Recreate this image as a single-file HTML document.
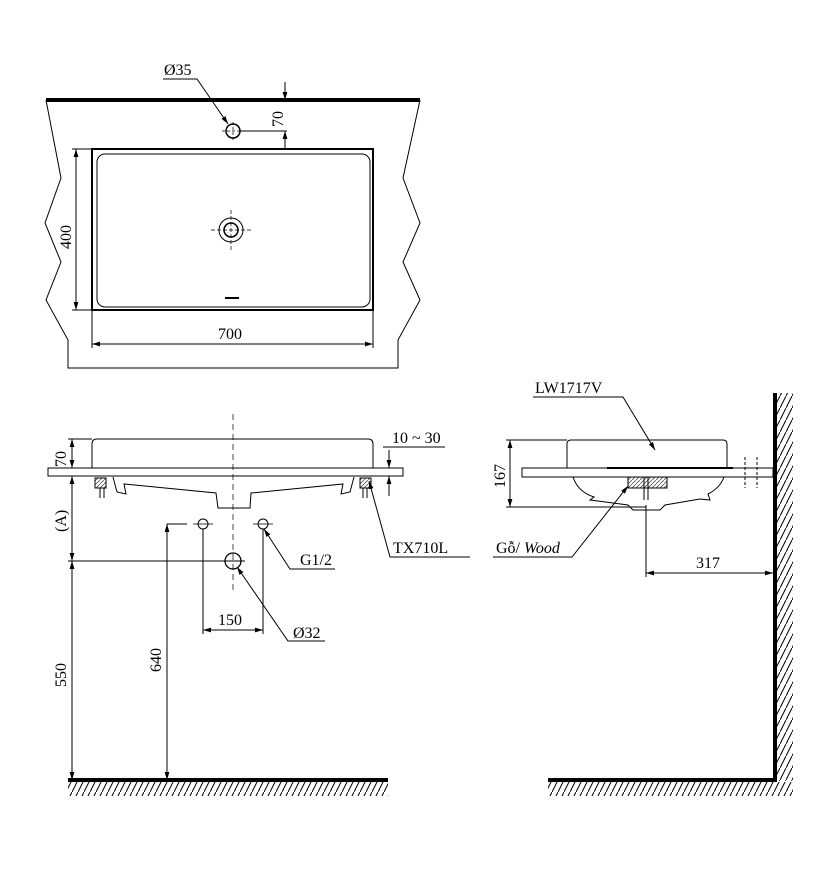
<!DOCTYPE html>
<html><head><meta charset="utf-8"><style>
html,body{margin:0;padding:0;background:#fff;}
svg{display:block;}
text{font-family:"Liberation Serif",serif;font-size:16px;fill:#000;}
</style></head><body>
<svg width="837" height="875" viewBox="0 0 837 875" xmlns="http://www.w3.org/2000/svg">
<defs>
<marker id="a" viewBox="0 0 10 10" refX="10" refY="5" markerWidth="8" markerHeight="8" orient="auto-start-reverse" markerUnits="userSpaceOnUse"><path d="M0,2 L10,5 L0,8 z" fill="#000"/></marker>
<pattern id="h" width="6" height="12" patternUnits="userSpaceOnUse"><line x1="0" y1="12" x2="6" y2="0" stroke="#000" stroke-width="1"/></pattern>
<pattern id="w" width="4" height="4" patternUnits="userSpaceOnUse"><line x1="0" y1="4" x2="4" y2="0" stroke="#555" stroke-width="0.8"/></pattern>
</defs>
<g fill="none" stroke="#000" stroke-width="1">
<line x1="46" y1="100" x2="420" y2="100" stroke-width="4"/>
<polyline points="46,100 61,178 45,223 61,262 46,300 68,340 68,368 398,368 398,340 420,300 403,262 420,223 403,178 420,100"/>
<rect x="92" y="149" width="281" height="161" stroke-width="2"/>
<rect x="97" y="154" width="273" height="153" rx="8"/>
<circle cx="231" cy="230" r="12"/>
<circle cx="231" cy="230" r="7" stroke-width="1.5"/>
<path d="M211,230H251M231,210V250" stroke-dasharray="4,2" stroke-width="0.7"/>
<circle cx="233" cy="131" r="7" stroke-width="1.5"/>
<path d="M222,131H244M233,122V140" stroke-dasharray="3,2" stroke-width="0.7"/>
<line x1="240" y1="131" x2="287" y2="131"/>
<line x1="285" y1="131" x2="285" y2="149" marker-start="url(#a)"/>
<line x1="285" y1="82" x2="285" y2="100" marker-end="url(#a)"/>
<polyline points="163,79 197,79 228,124" marker-end="url(#a)"/>
<line x1="76" y1="149" x2="76" y2="310" marker-start="url(#a)" marker-end="url(#a)"/>
<line x1="72" y1="149" x2="92" y2="149"/><line x1="72" y1="310" x2="92" y2="310"/>
<line x1="92" y1="310" x2="92" y2="348"/><line x1="373" y1="310" x2="373" y2="348"/>
<line x1="92" y1="344" x2="373" y2="344" marker-start="url(#a)" marker-end="url(#a)"/>
<path d="M225,298H239" stroke-width="2"/>

<line x1="233" y1="414" x2="233" y2="590" stroke-dasharray="6,4" stroke-width="0.7"/>
<rect x="48" y="468" width="355" height="8"/>
<path d="M92,468V444Q92,439 97,439H368Q373,439 373,444V468"/>
<path d="M113,477L117,492L126,494L124,484L216,493L218,508L250,508L251,493L343,484L341,494L350,492L354,477"/>
<rect x="95" y="478" width="11" height="10" fill="url(#w)"/>
<rect x="360" y="478" width="11" height="10" fill="url(#w)"/>
<path d="M100,488V498M104,488V498M363,488V498M367,488V498"/>
<line x1="72" y1="439" x2="72" y2="468" marker-start="url(#a)" marker-end="url(#a)"/>
<line x1="68" y1="439" x2="92" y2="439"/>
<line x1="72" y1="476" x2="72" y2="561" marker-start="url(#a)" marker-end="url(#a)"/>
<line x1="72" y1="561" x2="72" y2="780" marker-start="url(#a)" marker-end="url(#a)"/>
<line x1="68" y1="561" x2="245" y2="561"/>
<circle cx="233" cy="561" r="8" stroke-width="1.3"/>
<circle cx="203" cy="524" r="5"/><circle cx="263" cy="524" r="5"/>
<path d="M193,524H213M253,524H273" stroke-width="0.7"/>
<line x1="167" y1="524" x2="187" y2="524"/>
<line x1="167" y1="524" x2="167" y2="780" marker-start="url(#a)" marker-end="url(#a)"/>
<line x1="203" y1="529" x2="203" y2="634"/><line x1="263" y1="529" x2="263" y2="634"/>
<line x1="203" y1="630" x2="263" y2="630" marker-start="url(#a)" marker-end="url(#a)"/>
<polyline points="335,569 290,569 264,529" marker-end="url(#a)"/>
<polyline points="325,641 288,641 237,567" marker-end="url(#a)"/>
<polyline points="470,557 390,557 369,481" marker-end="url(#a)"/>
<line x1="383" y1="447" x2="445" y2="447"/>
<line x1="389" y1="450" x2="389" y2="468" marker-end="url(#a)"/>
<line x1="389" y1="496" x2="389" y2="476" marker-end="url(#a)"/>
<line x1="68" y1="780" x2="388" y2="780" stroke-width="4"/>
<rect x="68" y="782" width="320" height="14" fill="url(#h)" stroke="none"/>

<rect x="522" y="468" width="251" height="9"/>
<line x1="607" y1="468" x2="733" y2="468" stroke-width="2"/>
<path d="M567,468V444Q567,440 571,440H723Q727,440 727,444V468"/>
<path d="M573,477Q578,492 594,497L590,500L598,501L628,505L633,510H660L665,505L700,499L710,500L708,494Q720,488 724,477"/>
<rect x="628" y="477" width="39" height="11" fill="url(#w)"/>
<path d="M644,477V500M648,477V500"/>
<line x1="745" y1="457" x2="745" y2="488" stroke-dasharray="3,2"/>
<line x1="757" y1="457" x2="757" y2="488" stroke-dasharray="3,2"/>
<line x1="506" y1="440" x2="567" y2="440"/>
<line x1="506" y1="507" x2="646" y2="507"/>
<line x1="510" y1="440" x2="510" y2="507" marker-start="url(#a)" marker-end="url(#a)"/>
<line x1="646" y1="505" x2="646" y2="577"/>
<line x1="646" y1="573" x2="773" y2="573" marker-start="url(#a)" marker-end="url(#a)"/>
<polyline points="533,397 623,397 655,450" marker-end="url(#a)"/>
<polyline points="493,557 572,557 628,486" marker-end="url(#a)"/>
<line x1="775" y1="393" x2="775" y2="781" stroke-width="4"/>
<rect x="777" y="393" width="16" height="388" fill="url(#h)" stroke="none"/>
<line x1="548" y1="780" x2="777" y2="780" stroke-width="4"/>
<rect x="548" y="782" width="245" height="14" fill="url(#h)" stroke="none"/>
</g>
<text x="164" y="75">Ø35</text>
<text transform="translate(283,127) rotate(-90)">70</text>
<text transform="translate(71,249) rotate(-90)">400</text>
<text x="218" y="339">700</text>
<text transform="translate(66,467) rotate(-90)">70</text>
<text transform="translate(66,532) rotate(-90)">(A)</text>
<text x="392" y="443">10 ~ 30</text>
<text x="300" y="565">G1/2</text>
<text x="218" y="625">150</text>
<text x="293" y="638">Ø32</text>
<text x="393" y="553">TX710L</text>
<text transform="translate(66,687) rotate(-90)">550</text>
<text transform="translate(161,672) rotate(-90)">640</text>
<text x="535" y="393">LW1717V</text>
<text transform="translate(505,488) rotate(-90)">167</text>
<text x="496" y="553">Gỗ/ <tspan font-style="italic">Wood</tspan></text>
<text x="696" y="568">317</text>
</svg>
</body></html>
